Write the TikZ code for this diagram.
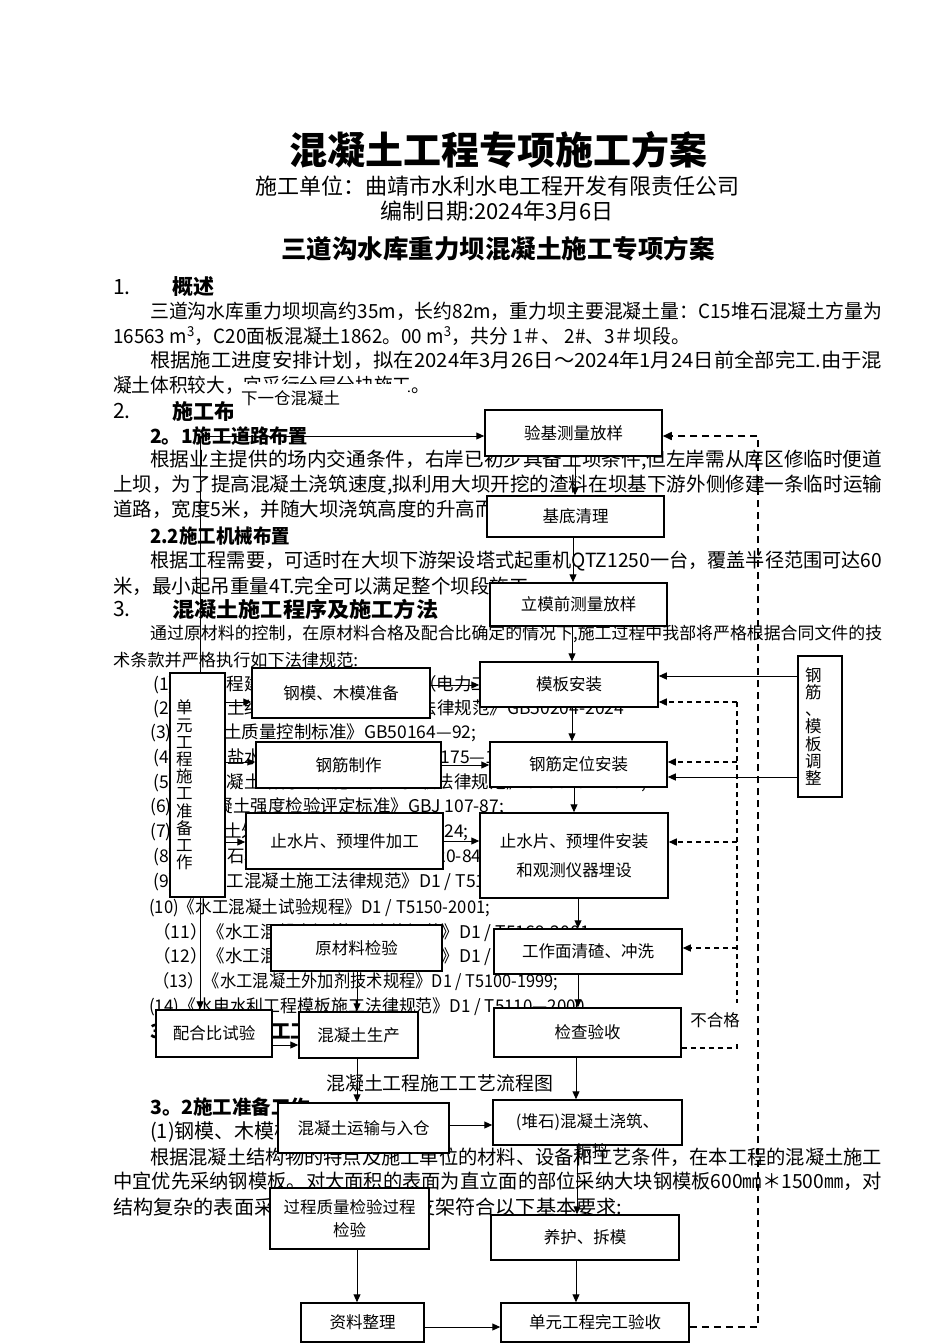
\documentclass[tikz,border=0pt]{standalone}
\usepackage{fontspec}
\usepackage{graphicx}
\setmainfont{Noto Sans CJK SC}
\usetikzlibrary{arrows.meta}
\newcommand{\fs}[1]{\fontsize{#1}{#1}\selectfont}
\newcommand{\fitw}[2]{\resizebox{#1pt}{\height}{#2}}
\tikzset{
  txt/.style={anchor=west, inner sep=0pt},
  body/.style={txt, font=\fs{19.5}},
  lawl/.style={txt, font=\fs{17.5}},
  head/.style={txt, font={\fs{21}\bfseries}},
  subh/.style={txt, font={\fs{19.5}\bfseries}},
  box/.style={draw, fill=white, line width=1.5pt, inner sep=0pt, font=\fs{16.5}, align=center},
  arr/.style={line width=1pt, -{Triangle[length=8pt,width=7pt]}},
  dln/.style={line width=1.3pt, dash pattern=on 5pt off 4pt},
  darr/.style={line width=1.3pt, dash pattern=on 5pt off 4pt, -{Triangle[length=8pt,width=7pt]}},
  odarr/.style={line width=1.6pt, dash pattern=on 7pt off 5pt, -{Triangle[length=9pt,width=8pt]}},
}
\begin{document}
\begin{tikzpicture}[x=1pt,y=-1pt]
\useasboundingbox (0,0) rectangle (950,1344);
\fill[white] (0,0) rectangle (950,1344);

% ---------- document text ----------
\node[font={\fs{38}\bfseries}, inner sep=0pt] (title) at (498,150) {混凝土工程专项施工方案};
\node[font=\fs{22}, inner sep=0pt] (unit) at (497,186) {施工单位：曲靖市水利水电工程开发有限责任公司};
\node[font=\fs{22}, inner sep=0pt] (date) at (497,211) {编制日期:2024年3月6日};
\node[font={\fs{25.5}\bfseries}, inner sep=0pt] (sub) at (498,249) {三道沟水库重力坝混凝土施工专项方案};

\node[txt, font=\fs{21}] (n1) at (113,287) {1.};
\node[head] (h1) at (172,287) {概述};
\node[body] (l1) at (150,311) {\fitw{732}{三道沟水库重力坝坝高约35m，长约82m，重力坝主要混凝土量：C15堆石混凝土方量为}};
\node[body] (l2) at (113,336) {\fitw{577}{16563 m\textsuperscript{3}，C20面板混凝土1862。00 m\textsuperscript{3}，共分 1＃、 2\#、3＃坝段。}};
\node[body] (l3) at (150,360) {\fitw{732}{根据施工进度安排计划，拟在2024年3月26日～2024年1月24日前全部完工.由于混}};
\node[body] (l4) at (113,385) {\fitw{317}{凝土体积较大，宜采行分层分块施工。}};
\node[txt, font=\fs{21}] (n2) at (113,411) {2.};
\node[head] (h2) at (172,411) {施工布置};
\node[subh] (h21) at (150,436) {\fitw{158}{2。1施工道路布置}};
\node[body] (l5) at (150,460) {\fitw{732}{根据业主提供的场内交通条件，右岸已初步具备上坝条件,但左岸需从库区修临时便道}};
\node[body] (l6) at (113,485) {\fitw{769}{上坝，为了提高混凝土浇筑速度,拟利用大坝开挖的渣料在坝基下游外侧修建一条临时运输}};
\node[body] (l7) at (113,509) {道路，宽度5米，并随大坝浇筑高度的升高而升高。};
\node[subh] (h22) at (150,536) {\fitw{140}{2.2施工机械布置}};
\node[body] (l8) at (150,561) {\fitw{732}{根据工程需要，可适时在大坝下游架设塔式起重机QTZ1250一台，覆盖半径范围可达60}};
\node[body] (l9) at (113,586) {米，最小起吊重量4T.完全可以满足整个坝段施工。};
\node[txt, font=\fs{21}] (n3) at (113,609) {3.};
\node[head] (h3) at (172,609) {\fitw{266}{混凝土施工程序及施工方法}};
\node[txt, font=\fs{17}] (l10) at (150,634) {\fitw{732}{通过原材料的控制，在原材料合格及配合比确定的情况下,施工过程中我部将严格根据合同文件的技}};
\node[txt, font=\fs{17}] (l11) at (113,660) {\fitw{245}{术条款并严格执行如下法律规范:}};

\node[lawl] (r1) at (153,685) {(1)\kern17pt《工程建设标准强制性条文》（电力工程部分）};
\node[lawl] (r2) at (153,709) {(2)《混凝土结构工程施工质量验收法律规范》GB50204-2024};
\node[lawl] (r3) at (150,733) {(3)《混凝土质量控制标准》GB50164—92;};
\node[lawl] (r4) at (153,758) {(4)《硅酸盐水泥、普通\kern-20pt 硅酸盐水泥》GB175—1999;};
\node[lawl] (r5) at (153,783) {(5)\kern17pt《混凝土结构工程施工质量验收法律规范》GB50204-2024;};
\node[lawl] (r6) at (150,807) {(6)\kern9pt《混凝土强度检验评定标准》GBJ 107-87;};
\node[lawl] (r7) at (150,832) {(7)《混凝土外加剂规范》GB50119-2024;};
\node[lawl] (r8) at (153,857) {(8)《浆砌石坝施\kern11pt 工技术规定》SDJ120-84;};
\node[lawl] (r9) at (153,882) {(9)\kern17pt《水工混凝土施工法律规范》D1 / T5144-2001;};
\node[lawl] (r10) at (149,908) {\fitw{341}{(10)《水工混凝土试验规程》D1 / T5150-2001;}};
\node[lawl] (r11) at (153,933) {（11）《水工混凝土钢筋\kern-11pt 施工法律规范》D1 / T5169-2001;};
\node[lawl] (r12) at (153,957) {（12）《水工混凝土砂石\kern-11pt 骨料试验规程》D1 / T5151-2001;};
\node[lawl] (r13) at (153,982) {\fitw{405}{（13）《水工混凝土外加剂技术规程》D1 / T5100-1999;}};
\node[lawl] (r14) at (149,1007) {\fitw{436}{(14)《水电水利工程模板施工法律规范》D1 / T5110—2000}};
\node[subh] (h31) at (150,1031) {3。1混凝土施工工艺流程};
\node[txt, font=\fs{19}] (cap) at (326,1083) {\fitw{227}{混凝土工程施工工艺流程图}};
\node[subh] (h32) at (150,1107) {3。2施工准备工作};
\node[txt, font=\fs{20}] (l12) at (150,1132) {(1)钢模、木模板的配置};
\node[body] (l13) at (150,1157) {\fitw{732}{根据混凝土结构物的特点及施工单位的材料、设备和工艺条件，在本工程的混凝土施工}};
\node[body] (l14) at (113,1181) {\fitw{769}{中宜优先采纳钢模板。对大面积的表面为直立面的部位采纳大块钢模板600㎜＊1500㎜，对}};
\node[body] (l15) at (113,1207) {\fitw{509}{结构复杂的表面采纳木模板，模板支架符合以下基本要求:}};

% ---------- flow chart boxes ----------
\node[box, minimum width=177pt, minimum height=46pt] (yj) at (573.5,433) {验基测量放样};
\node[box, minimum width=177pt, minimum height=41pt] (jd) at (575.5,516.5) {基底清理};
\node[box, minimum width=177pt, minimum height=43pt] (lm) at (578.5,604.5) {立模前测量放样};
\node[box, minimum width=178pt, minimum height=45pt] (mb) at (569,684.5) {模板安装};
\node[box, minimum width=177pt, minimum height=45pt] (gjdw) at (578.5,764.5) {钢筋定位安装};
\node[box, minimum width=188pt, minimum height=85pt] (zsaz) at (574,855.5) {止水片、预埋件安装\\[12pt]和观测仪器埋设};
\node[box, minimum width=188pt, minimum height=45pt] (gzm) at (588,951.5) {工作面清碴、冲洗};
\node[box, minimum width=187pt, minimum height=49pt] (jcys) at (587.5,1032.5) {检查验收};
\node[box, minimum width=189pt, minimum height=45pt] (jz) at (587.5,1122.5) {(堆石)混凝土浇筑、};
\node[box, minimum width=188pt, minimum height=45pt] (yh) at (585,1237.5) {养护、拆模};
\node[box, minimum width=188pt, minimum height=39pt] (wg) at (595,1322.5) {单元工程完工验收};
\node[box, minimum width=123pt, minimum height=39pt] (zl) at (362.5,1322.5) {资料整理};
\node[box, minimum width=159pt, minimum height=61pt] (gc) at (349.5,1218.5) {过程质量检验过程\\[7pt]检验};
\node[box, minimum width=171pt, minimum height=50pt] (ys) at (363.5,1128) {混凝土运输与入仓};
\node[box, minimum width=119pt, minimum height=46pt] (sc) at (358.5,1035) {混凝土生产};
\node[box, minimum width=116pt, minimum height=47pt] (phb) at (214,1033.5) {配合比试验};
\node[box, minimum width=171pt, minimum height=46pt] (ycl) at (356.5,948) {原材料检验};
\node[box, minimum width=197pt, minimum height=56pt] (zsjg) at (344.5,841) {止水片、预埋件加工};
\node[box, minimum width=185pt, minimum height=46pt] (gjzz) at (348.5,765) {钢筋制作};
\node[box, minimum width=178pt, minimum height=50pt] (gm) at (341,693) {钢模、木模准备};
\node[box, minimum width=55pt, minimum height=224pt, text width=43pt, align=left,
      font={\fontsize{16.5}{17.2}\selectfont}] (dy) at (197.5,785) {单\\元\\工\\程\\施\\工\\准\\备\\工\\作};
\node[box, minimum width=44pt, minimum height=141pt, text width=30pt, align=left,
      font={\fontsize{16.5}{17.2}\selectfont}] (tz) at (820,726.5) {钢\\筋\\、\\模\\板\\调\\整};

% ---------- solid connectors ----------
\draw[arr] (yj.south -| 575,0) -- (jd.north -| 575,0);
\draw[arr] (jd.south -| 573,0) -- (lm.north -| 573,0);
\draw[arr] (lm.south -| 572,0) -- (mb.north -| 572,0);
\draw[arr] (mb.south -| 572,0) -- (gjdw.north -| 572,0);
\draw[arr] (gjdw.south -| 574,0) -- (zsaz.north -| 574,0);
\draw[arr] (zsaz.south -| 578,0) -- (gzm.north -| 578,0);
\draw[arr] (gzm.south -| 578,0) -- (jcys.north -| 578,0);
\draw[arr] (jcys.south -| 576,0) -- (jz.north -| 576,0);
\draw[arr] (jz.south -| 577,0) -- (yh.north -| 577,0);
\draw[arr] (yh.south -| 576,0) -- (wg.north -| 576,0);

\draw[arr] (gm.east |- 0,685) -- (mb.west |- 0,685);
\draw[arr] (gjzz.east |- 0,765) -- (gjdw.west |- 0,765);
\draw[arr] (zsjg.east |- 0,841) -- (zsaz.west |- 0,841);
\draw[arr] (dy.east |- 0,702) -- (gm.west |- 0,702);
\draw[arr] (dy.east |- 0,762) -- (gjzz.west |- 0,762);
\draw[arr] (dy.east |- 0,842) -- (zsjg.west |- 0,842);
\coordinate (lc) at (200,436);
\draw[arr] (dy.north -| lc) -- (lc) -- (yj.west |- lc);
\draw[arr] (dy.south -| lc) -- (phb.north -| lc);
\draw[arr] (phb.east |- 0,1045) -- (sc.west |- 0,1045);
\draw[arr] (ycl.south -| 357,0) -- (sc.north -| 357,0);
\draw[arr] (sc.south -| 357,0) -- (ys.north -| 357,0);
\draw[arr] (ys.east |- 0,1125) -- (jz.west |- 0,1125);
\draw[arr] (gc.south -| 357,0) -- (zl.north -| 357,0);
\draw[arr] (zl.east |- 0,1327) -- (wg.west |- 0,1327);
\draw[arr] (tz.west |- 0,676) -- (mb.east |- 0,676);
\draw[arr] (tz.west |- 0,777) -- (gjdw.east |- 0,777);

% ---------- dashed feedback ----------
\coordinate (ib) at (737,1048);
\coordinate (it) at (737,702);
\coordinate (i2) at (737,762);
\coordinate (i3) at (737,842);
\coordinate (i4) at (737,948);
\draw[dln] (jcys.east |- ib) -- (ib) -- (it);
\draw[darr] (it) -- (mb.east |- it);
\draw[darr] (i2) -- (gjdw.east |- i2);
\draw[darr] (i3) -- (zsaz.east |- i3);
\draw[darr] (i4) -- (gzm.east |- i4);
\coordinate (ob) at (758,1327);
\coordinate (ot) at (758,436);
\draw[odarr] (wg.east |- ob) -- (ob) -- (ot) -- (yj.east |- ot);

% ---------- labels ----------
\fill[white] (233,384) rectangle (408,422);
\node[font=\fs{16.5}, inner sep=0pt] (xyc) at (290.5,398) {下一仓混凝土};
\fill[white] (686,1003) rectangle (745,1044);
\node[font=\fs{16.5}, inner sep=0pt] (bhg) at (715,1020) {不合格};
\node[font=\fs{16.5}, inner sep=0pt] (zd) at (592,1151) {振捣};
\end{tikzpicture}
\end{document}
